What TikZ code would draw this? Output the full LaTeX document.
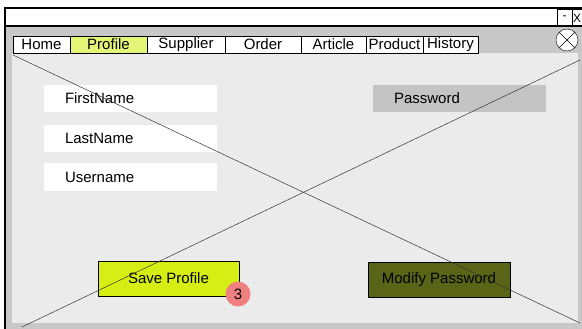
\documentclass[tikz,border=0pt]{standalone}
\usepackage{fontspec}
\setmainfont{Liberation Sans}
\definecolor{framegray}{RGB}{200,200,200}
\definecolor{panelgray}{RGB}{235,235,235}
\definecolor{pwgray}{RGB}{196,196,196}
\definecolor{profiletab}{RGB}{228,245,120}
\definecolor{savegreen}{RGB}{214,238,20}
\definecolor{modolive}{RGB}{90,100,22}
\definecolor{badgered}{RGB}{240,128,128}
\begin{document}
\begin{tikzpicture}[x=1pt,y=-1pt,
  every node/.style={font=\fontsize{15}{17}\selectfont},
  tab/.style={draw,fill=white,minimum height=17pt,inner sep=0pt},
  field/.style={fill=white,minimum height=27pt,text width=131pt,inner xsep=21pt,inner ysep=0pt,align=left},
  button/.style={draw,line width=.8pt,minimum height=35pt,inner sep=0pt},
  winbtn/.style={draw,minimum height=17pt,inner sep=0pt,font=\fontsize{12}{14}\selectfont}]
\clip (0,0) rectangle (582,329);
\fill[framegray] (5,8) rectangle (600,340);
\draw[line width=1.2pt] (5,340) -- (5,8);
\draw[line width=1.6pt,fill=white] (5,8) rectangle (600,26);
\fill[panelgray] (12,53) rectangle (578,323);
\node[winbtn,minimum width=15pt] (minbtn) at (564.5,18) {-};
\node[winbtn,anchor=west,inner xsep=1pt] (xbtn) at (572,18) {X};
\node[circle,draw,fill=white,minimum size=22pt,inner sep=0pt] (close) at (567,40) {};
\draw (close.north west) -- (close.south east);
\draw (close.north east) -- (close.south west);
\node[tab,minimum width=57pt] (home) at (41.5,44.5) {Home};
\node[tab,minimum width=77pt,fill=profiletab] (profile) at (108.5,44.5) {Profile};
\node[tab,minimum width=78pt] (supplier) at (186,44.5) {Supplier};
\node[tab,minimum width=76pt] (order) at (263,44.5) {Order};
\node[tab,minimum width=65pt] (article) at (333.5,44.5) {Article};
\node[tab,minimum width=57pt] (product) at (394.5,44.5) {Product};
\node[tab,minimum width=55pt] (history) at (450.5,44.5) {History};
\node[field] (firstname) at (130.5,98.5) {FirstName};
\node[field] (lastname) at (130.5,138.5) {LastName};
\node[field] (username) at (130.5,177) {Username};
\node[field,fill=pwgray] (password) at (459.5,98.5) {Password};
\node[button,fill=savegreen,minimum width=141pt] (save) at (168.5,278.5) {Save Profile};
\node[button,fill=modolive,minimum width=142pt] (modify) at (439,279.5) {Modify Password};
\node[circle,fill=badgered,minimum size=25pt,inner sep=0pt] (badge) at (238,294) {3};
\coordinate (tl) at (13,55);
\coordinate (br) at (580,323);
\coordinate (bl) at (22,327);
\coordinate (tr) at (580,60);
\draw[line width=.5pt,black!80] (tl) -- (br);
\draw[line width=.5pt,black!80] (bl) -- (tr);
\end{tikzpicture}
\end{document}
